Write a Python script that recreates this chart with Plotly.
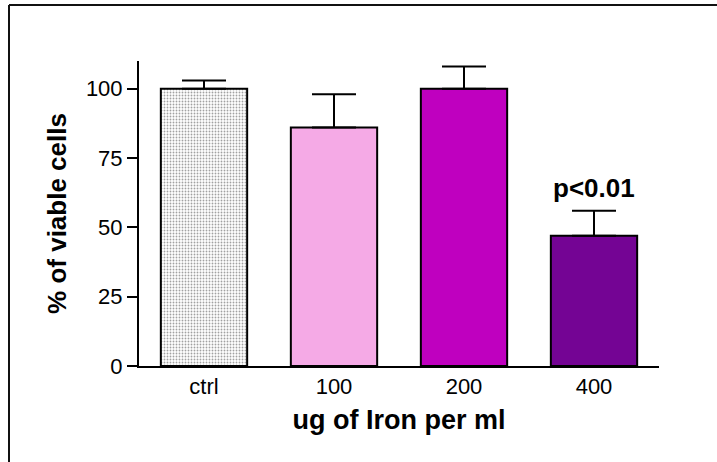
import plotly.graph_objects as go

# Iron dose groups and cell viability (% of control), mean and upper SEM bound
groups = ["ctrl", "100", "200", "400"]
viability = [100, 86, 100, 47]
upper_bound = [103, 98, 108, 56]
bar_colors = ["#ffffff", "#f5aae6", "#bf00bf", "#740494"]
y_ticks = [0, 25, 50, 75, 100]
significance_label = "p<0.01"
significance_group = "400"

err_plus = [u - v for u, v in zip(upper_bound, viability)]

fig = go.Figure()
fig.add_trace(go.Bar(
    x=groups,
    y=viability,
    width=0.664,
    marker=dict(
        color=bar_colors,
        line=dict(color="#000000", width=2),
        pattern=dict(
            shape=[".", "", "", ""],
            size=3,
            solidity=0.3,
            fgcolor="#9a9a9a",
            bgcolor=bar_colors,
            fillmode="overlay",
        ),
    ),
    error_y=dict(
        type="data",
        symmetric=False,
        array=err_plus,
        arrayminus=[0] * len(groups),
        color="#000000",
        thickness=2,
        width=22,
    ),
    showlegend=False,
    hoverinfo="skip",
))

# significance note above the highest-dose bar (category index on the x axis)
sig_index = groups.index(significance_group)
fig.add_annotation(
    x=sig_index,
    y=upper_bound[sig_index],
    text=f"<b>{significance_label}</b>",
    showarrow=False,
    yanchor="bottom",
    yshift=6,
    font=dict(family="Liberation Sans, Arial, sans-serif", size=26, color="#000000"),
)

# frame line along the top and left edge of the figure
frame = dict(type="line", xref="paper", yref="paper",
             line=dict(color="#111111", width=2))
fig.add_shape(**frame, x0=-0.25, y0=1.1836, x1=1.2, y1=1.1836)
fig.add_shape(**frame, x0=-0.25, y0=1.1836, x1=-0.25, y1=-0.4)

fig.update_layout(
    width=717,
    height=462,
    margin=dict(l=139, r=58, t=61, b=96),
    paper_bgcolor="#ffffff",
    plot_bgcolor="#ffffff",
    font=dict(family="Liberation Sans, Arial, sans-serif", size=22, color="#000000"),
    xaxis=dict(
        type="category",
        range=[-0.5, 3.5],
        showline=True,
        linecolor="#000000",
        linewidth=2,
        ticks="",
        showgrid=False,
        zeroline=False,
        tickfont=dict(size=22),
        title=dict(
            text="<b>ug of Iron per ml</b>",
            font=dict(size=27),
            standoff=12,
        ),
    ),
    yaxis=dict(
        range=[0, 110],
        tickvals=y_ticks,
        showline=True,
        linecolor="#000000",
        linewidth=2,
        ticks="outside",
        ticklen=10,
        tickwidth=2,
        tickcolor="#000000",
        showgrid=False,
        zeroline=False,
        tickfont=dict(size=22),
        title=dict(
            text="<b>% of viable cells</b>",
            font=dict(size=26),
            standoff=12,
        ),
    ),
)

fig.write_html("out.html")
